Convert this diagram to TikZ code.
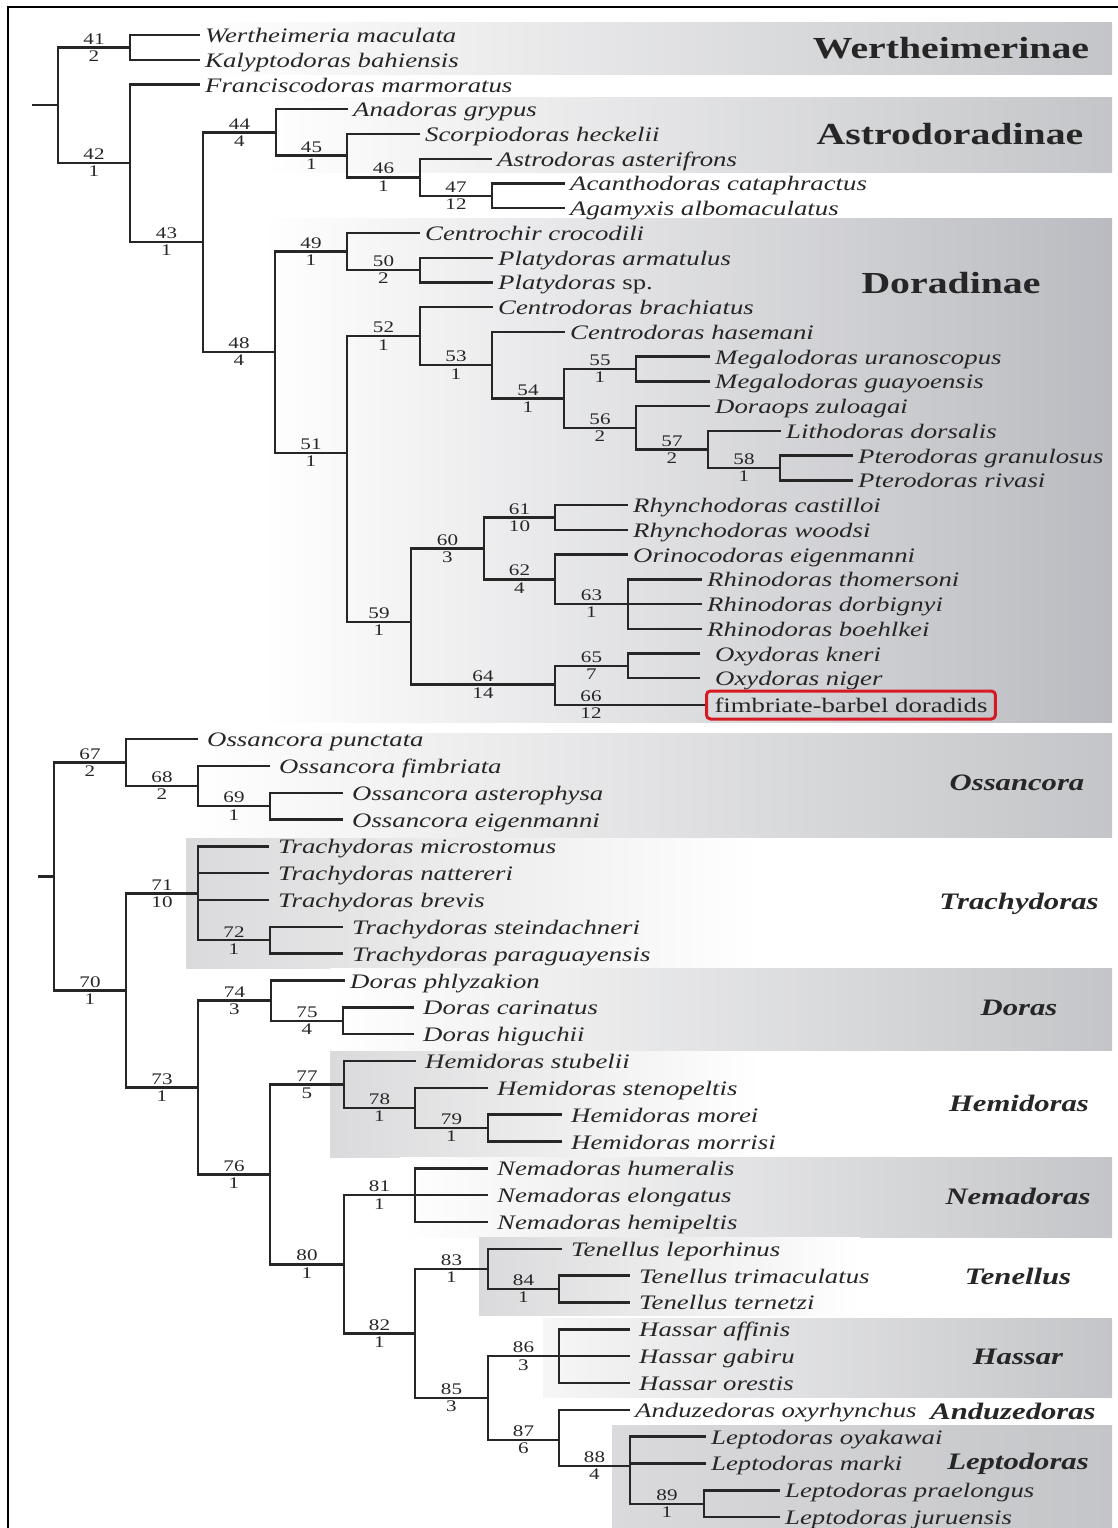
\documentclass[tikz,border=0pt]{standalone}
\usepackage{fontspec}
\setmainfont{Liberation Serif}[FakeStretch=1.3]
\definecolor{cladegray}{RGB}{196,197,200}
\definecolor{darkclade}{RGB}{186,187,192}
\definecolor{lightclade}{RGB}{218,218,220}
\definecolor{boxred}{RGB}{214,26,34}
\def\branch(#1)(#2)#3#4{\draw (#1) |- node[num,above,pos=.75]{#3} node[num,below,pos=.75]{#4} (#2);}
\tikzset{
	num/.style={font=\fontsize{8.1}{9}\selectfont, inner sep=1pt},
	taxon/.style={anchor=west, inner xsep=2pt, inner ysep=0pt, text height=8.5pt, text depth=1pt, font=\fontsize{10.3}{12}\selectfont\itshape},
	taxonb/.style={taxon, inner xsep=4pt},
	subfam/.style={font=\fontsize{15.3}{17}\selectfont\bfseries},
	genus/.style={font=\fontsize{11.8}{14}\selectfont\bfseries\itshape},
}

\begin{document}
\begin{tikzpicture}[x=0.5pt, y=-0.5pt, line width=1.2pt, color=black!85]
			%%%%% START %%%%%
			\useasboundingbox (0,0) rectangle (1118,1528);
			
			% grey bands
			\shade[left color=white, right color=cladegray] (200,22) rectangle (1112,74);
			\shade[left color=white, right color=cladegray] (262,97) rectangle (1112,172);
			\shade[left color=white, right color=darkclade] (262,218) rectangle (1112,722);
			\shade[left color=white, right color=cladegray] (190,733) rectangle (1112,837);
			\shade[left color=lightclade, right color=white] (186,838) rectangle (760,968);
			\shade[left color=white, right color=cladegray] (330,968) rectangle (1112,1050);
			\shade[left color=lightclade, right color=white] (330,1051) rectangle (760,1157);
			\shade[left color=white, right color=cladegray] (400,1157) rectangle (1112,1237);
			\shade[left color=lightclade, right color=white] (479,1237) rectangle (860,1315);
			\shade[left color=white!85!cladegray, right color=cladegray] (543,1318) rectangle (1112,1397);
			\shade[left color=lightclade, right color=cladegray] (612,1425) rectangle (1112,1528);
			
			% frame
			\draw[line width=1.3pt, black] (8,1528) -- (8,7) -- (1118,7);
			
			% upper tree
			\coordinate (s1) at (32,105);
			\coordinate (r1) at (58,105);
			\coordinate (n41) at (130,47.4);
			\coordinate (n42) at (130,163);
			\coordinate (n43) at (203,242);
			\coordinate (n44) at (276,132.4);
			\coordinate (n45) at (347,155.6);
			\coordinate (n46) at (420,177.3);
			\coordinate (n47) at (492,195.8);
			\coordinate (n48) at (275,352);
			\coordinate (n49) at (347,251.5);
			\coordinate (n50) at (420,270);
			\coordinate (n51) at (347,453);
			\coordinate (n52) at (420,336.1);
			\coordinate (n53) at (492,365.1);
			\coordinate (n54) at (564,398.4);
			\coordinate (n55) at (636,369);
			\coordinate (n56) at (636,427.7);
			\coordinate (n57) at (708,449.4);
			\coordinate (n58) at (780,468);
			\coordinate (n59) at (411,622);
			\coordinate (n60) at (484,548.4);
			\coordinate (n61) at (555,517.5);
			\coordinate (n62) at (555,579.3);
			\coordinate (n63) at (628,604);
			\coordinate (n64) at (555,684.4);
			\coordinate (n65) at (628,665.9);
			
			\node[taxon] (wmac) at (200,35) {Wertheimeria maculata};
			\node[taxon] (kbah) at (200,59.7) {Kalyptodoras bahiensis};
			\node[taxon] (fmar) at (200,84.5) {Franciscodoras marmoratus};
			\node[taxon] (agry) at (348,109.2) {Anadoras grypus};
			\node[taxon] (shec) at (420,134) {Scorpiodoras heckelii};
			\node[taxon] (aast) at (492,158.7) {Astrodoras asterifrons};
			\node[taxon] (acat) at (565,183.4) {Acanthodoras cataphractus};
			\node[taxon] (aalb) at (565,208.2) {Agamyxis albomaculatus};
			\node[taxon] (ccro) at (420,232.9) {Centrochir crocodili};
			\node[taxon] (parm) at (493,257.7) {Platydoras armatulus};
			\node[taxon] (psp) at (493,282.4) {Platydoras \textup{sp.}};
			\node[taxon] (cbra) at (493,307.1) {Centrodoras brachiatus};
			\node[taxon] (chas) at (565,331.9) {Centrodoras hasemani};
			\node[taxon] (mura) at (710,356.6) {Megalodoras uranoscopus};
			\node[taxon] (mgua) at (710,381.4) {Megalodoras guayoensis};
			\node[taxon] (dzul) at (710,406.1) {Doraops zuloagai};
			\node[taxon] (ldor) at (781,430.8) {Lithodoras dorsalis};
			\node[taxon] (pgra) at (853,455.6) {Pterodoras granulosus};
			\node[taxon] (priv) at (853,480.3) {Pterodoras rivasi};
			\node[taxon] (rcas) at (628,505.1) {Rhynchodoras castilloi};
			\node[taxon] (rwoo) at (628,529.8) {Rhynchodoras woodsi};
			\node[taxon] (oeig) at (628,554.5) {Orinocodoras eigenmanni};
			\node[taxon] (rtho) at (702,579.3) {Rhinodoras thomersoni};
			\node[taxon] (rdor) at (702,604) {Rhinodoras dorbignyi};
			\node[taxon] (rboe) at (702,628.8) {Rhinodoras boehlkei};
			\node[taxon, inner xsep=7pt] (okne) at (700,653.5) {Oxydoras kneri};
			\node[taxon, inner xsep=7pt] (onig) at (700,678.2) {Oxydoras niger};
			\node[taxon, font=\fontsize{10.3}{12}\selectfont, draw=boxred, line width=1.5pt, rounded corners=2pt, inner xsep=4pt, minimum height=14pt] (fbd) at (705,705) {fimbriate-barbel doradids};
			
			\draw (s1) -- (r1);
			\branch(r1)(n41){41}{2}
			\branch(r1)(n42){42}{1}
			\branch(n42)(n43){43}{1}
			\branch(n43)(n44){44}{4}
			\branch(n44)(n45){45}{1}
			\branch(n45)(n46){46}{1}
			\branch(n46)(n47){47}{12}
			\branch(n43)(n48){48}{4}
			\branch(n48)(n49){49}{1}
			\branch(n49)(n50){50}{2}
			\branch(n48)(n51){51}{1}
			\branch(n51)(n52){52}{1}
			\branch(n52)(n53){53}{1}
			\branch(n53)(n54){54}{1}
			\branch(n54)(n55){55}{1}
			\branch(n54)(n56){56}{2}
			\branch(n56)(n57){57}{2}
			\branch(n57)(n58){58}{1}
			\branch(n51)(n59){59}{1}
			\branch(n59)(n60){60}{3}
			\branch(n60)(n61){61}{10}
			\branch(n60)(n62){62}{4}
			\branch(n62)(n63){63}{1}
			\branch(n59)(n64){64}{14}
			\branch(n64)(n65){65}{7}
			\draw (n64) |- node[num,above,pos=.62]{66} node[num,below,pos=.62]{12} (fbd.west);
			
			\draw (n41) |- (wmac.west);
			\draw (n41) |- (kbah.west);
			\draw (n42) |- (fmar.west);
			\draw (n44) |- (agry.west);
			\draw (n45) |- (shec.west);
			\draw (n46) |- (aast.west);
			\draw (n47) |- (acat.west);
			\draw (n47) |- (aalb.west);
			\draw (n49) |- (ccro.west);
			\draw (n50) |- (parm.west);
			\draw (n50) |- (psp.west);
			\draw (n52) |- (cbra.west);
			\draw (n53) |- (chas.west);
			\draw (n55) |- (mura.west);
			\draw (n55) |- (mgua.west);
			\draw (n56) |- (dzul.west);
			\draw (n57) |- (ldor.west);
			\draw (n58) |- (pgra.west);
			\draw (n58) |- (priv.west);
			\draw (n61) |- (rcas.west);
			\draw (n61) |- (rwoo.west);
			\draw (n62) |- (oeig.west);
			\draw (n63) |- (rtho.west);
			\draw (n63) |- (rdor.west);
			\draw (n63) |- (rboe.west);
			\draw (n65) |- (okne.west);
			\draw (n65) |- (onig.west);
			
			% lower tree
			\coordinate (s2) at (38,876.5);
			\coordinate (r2) at (54,876.5);
			\coordinate (n67) at (126,762.5);
			\coordinate (n68) at (198,786);
			\coordinate (n69) at (270,806.1);
			\coordinate (n70) at (126,990.4);
			\coordinate (n71) at (198,893.3);
			\coordinate (n72) at (270,940.2);
			\coordinate (n73) at (198,1087.5);
			\coordinate (n74) at (271,1000.6);
			\coordinate (n75) at (343,1020.7);
			\coordinate (n76) at (270,1174.4);
			\coordinate (n77) at (344,1084.5);
			\coordinate (n78) at (415,1108);
			\coordinate (n79) at (488,1128);
			\coordinate (n80) at (344,1264.3);
			\coordinate (n81) at (415,1195.1);
			\coordinate (n82) at (415,1333.5);
			\coordinate (n83) at (488,1269);
			\coordinate (n84) at (559,1289);
			\coordinate (n85) at (488,1398);
			\coordinate (n86) at (559,1356.1);
			\coordinate (n87) at (559,1440);
			\coordinate (n88) at (630,1466);
			\coordinate (n89) at (704,1503.7);
			
			\node[taxonb] (opun) at (198,739) {Ossancora punctata};
			\node[taxonb] (ofim) at (270,765.8) {Ossancora fimbriata};
			\node[taxonb] (oast) at (343,792.7) {Ossancora asterophysa};
			\node[taxonb] (oeim) at (343,819.5) {Ossancora eigenmanni};
			\node[taxonb] (tmic) at (269,846.3) {Trachydoras microstomus};
			\node[taxonb] (tnat) at (269,873.2) {Trachydoras nattereri};
			\node[taxonb] (tbre) at (269,900) {Trachydoras brevis};
			\node[taxonb] (tste) at (343,926.8) {Trachydoras steindachneri};
			\node[taxonb] (tpar) at (343,953.6) {Trachydoras paraguayensis};
			\node[taxon] (dphl) at (345,980.5) {Doras phlyzakion};
			\node[taxonb] (dcar) at (414,1007.3) {Doras carinatus};
			\node[taxonb] (dhig) at (414,1034.1) {Doras higuchii};
			\node[taxonb] (hstu) at (416,1061) {Hemidoras stubelii};
			\node[taxonb] (hste) at (488,1087.8) {Hemidoras stenopeltis};
			\node[taxonb] (hmor) at (562,1114.6) {Hemidoras morei};
			\node[taxonb] (hmrr) at (562,1141.5) {Hemidoras morrisi};
			\node[taxonb] (nhum) at (488,1168.3) {Nemadoras humeralis};
			\node[taxonb] (nelo) at (488,1195.1) {Nemadoras elongatus};
			\node[taxonb] (nhem) at (488,1222) {Nemadoras hemipeltis};
			\node[taxonb] (tlep) at (562,1248.8) {Tenellus leporhinus};
			\node[taxonb] (ttri) at (630,1275.6) {Tenellus trimaculatus};
			\node[taxonb] (tter) at (630,1302.4) {Tenellus ternetzi};
			\node[taxonb] (haff) at (630,1329.3) {Hassar affinis};
			\node[taxonb] (hgab) at (630,1356.1) {Hassar gabiru};
			\node[taxonb] (hore) at (630,1382.9) {Hassar orestis};
			\node[taxon] (aoxy) at (630,1409.8) {Anduzedoras oxyrhynchus};
			\node[taxon] (loya) at (706,1436.6) {Leptodoras oyakawai};
			\node[taxon] (lmar) at (706,1463.4) {Leptodoras marki};
			\node[taxon] (lpra) at (780,1490.3) {Leptodoras praelongus};
			\node[taxon] (ljur) at (780,1517.1) {Leptodoras juruensis};
			
			\draw (s2) -- (r2);
			\branch(r2)(n67){67}{2}
			\branch(n67)(n68){68}{2}
			\branch(n68)(n69){69}{1}
			\branch(r2)(n70){70}{1}
			\branch(n70)(n71){71}{10}
			\branch(n71)(n72){72}{1}
			\branch(n70)(n73){73}{1}
			\branch(n73)(n74){74}{3}
			\branch(n74)(n75){75}{4}
			\branch(n73)(n76){76}{1}
			\branch(n76)(n77){77}{5}
			\branch(n77)(n78){78}{1}
			\branch(n78)(n79){79}{1}
			\branch(n76)(n80){80}{1}
			\branch(n80)(n81){81}{1}
			\branch(n80)(n82){82}{1}
			\branch(n82)(n83){83}{1}
			\branch(n83)(n84){84}{1}
			\branch(n82)(n85){85}{3}
			\branch(n85)(n86){86}{3}
			\branch(n85)(n87){87}{6}
			\branch(n87)(n88){88}{4}
			\branch(n88)(n89){89}{1}
			
			\draw (n67) |- (opun.west);
			\draw (n68) |- (ofim.west);
			\draw (n69) |- (oast.west);
			\draw (n69) |- (oeim.west);
			\draw (n71) |- (tmic.west);
			\draw (n71) |- (tnat.west);
			\draw (n71) |- (tbre.west);
			\draw (n72) |- (tste.west);
			\draw (n72) |- (tpar.west);
			\draw (n74) |- (dphl.west);
			\draw (n75) |- (dcar.west);
			\draw (n75) |- (dhig.west);
			\draw (n77) |- (hstu.west);
			\draw (n78) |- (hste.west);
			\draw (n79) |- (hmor.west);
			\draw (n79) |- (hmrr.west);
			\draw (n81) |- (nhum.west);
			\draw (n81) |- (nelo.west);
			\draw (n81) |- (nhem.west);
			\draw (n83) |- (tlep.west);
			\draw (n84) |- (ttri.west);
			\draw (n84) |- (tter.west);
			\draw (n86) |- (haff.west);
			\draw (n86) |- (hgab.west);
			\draw (n86) |- (hore.west);
			\draw (n87) |- (aoxy.west);
			\draw (n88) |- (loya.west);
			\draw (n88) |- (lmar.west);
			\draw (n89) |- (lpra.west);
			\draw (n89) |- (ljur.west);
			
			% clade names
			\node[subfam] (wert) at (951,48) {Wertheimerinae};
			\node[subfam] (astro) at (950,134) {Astrodoradinae};
			\node[subfam] (dorad) at (951,283) {Doradinae};
			\node[genus] (ossan) at (1017,783) {Ossancora};
			\node[genus] (trachy) at (1019,904) {Trachydoras};
			\node[genus] (doras) at (1019,1008) {Doras};
			\node[genus] (hemi) at (1019,1103) {Hemidoras};
			\node[genus] (nema) at (1018,1196) {Nemadoras};
			\node[genus] (tenel) at (1018,1276) {Tenellus};
			\node[genus] (hassar) at (1018,1357) {Hassar};
			\node[genus] (anduz) at (1013,1411) {Anduzedoras};
			\node[genus] (lepto) at (1018,1464) {Leptodoras};
			
			%%%%% END %%%%%
\end{tikzpicture}
\end{document}
